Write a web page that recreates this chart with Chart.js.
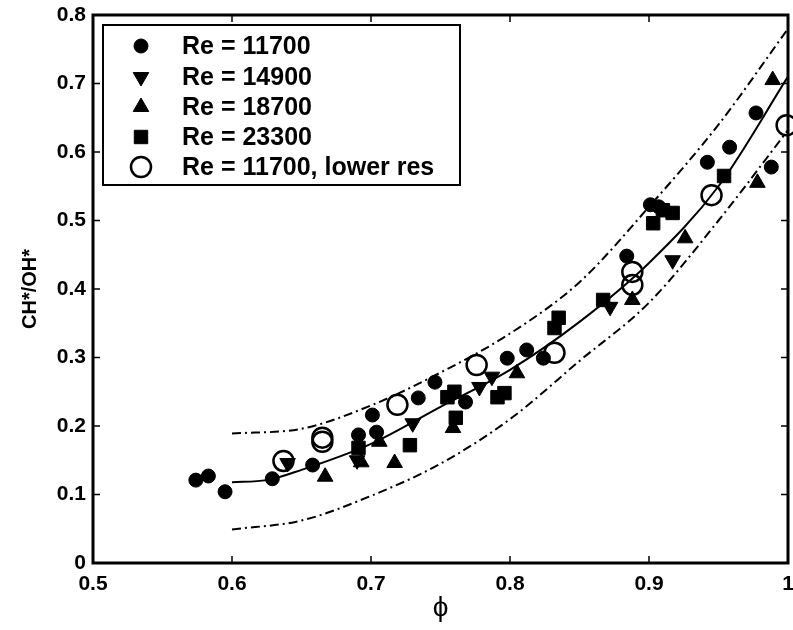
<!DOCTYPE html>
<html>
<head>
<meta charset="utf-8">
<script src="https://cdn.jsdelivr.net/npm/chart.js@4.4.1/dist/chart.umd.min.js"></script>
<style>
  html, body { margin: 0; padding: 0; background: #fff; }
  #wrap { width: 793px; height: 630px; }
</style>
</head>
<body>
<div id="wrap"><canvas id="ratio-chart" width="793" height="630"></canvas></div>
<script>
// axis ticks
var xTicks = [0.5, 0.6, 0.7, 0.8, 0.9, 1.0];
var yTicks = [0, 0.1, 0.2, 0.3, 0.4, 0.5, 0.6, 0.7, 0.8];

// measured points, one pair of arrays per Reynolds number
var re11700X = [0.574, 0.583, 0.595, 0.629, 0.658, 0.691, 0.701, 0.704, 0.734, 0.746, 0.768, 0.798, 0.812, 0.824, 0.884, 0.901, 0.907, 0.942, 0.958, 0.977, 0.988];
var re11700Y = [0.121, 0.127, 0.104, 0.123, 0.143, 0.187, 0.216, 0.191, 0.241, 0.264, 0.235, 0.299, 0.311, 0.299, 0.448, 0.523, 0.520, 0.585, 0.607, 0.657, 0.578];

var re14900X = [0.640, 0.690, 0.730, 0.778, 0.787, 0.872, 0.917];
var re14900Y = [0.146, 0.150, 0.204, 0.257, 0.272, 0.374, 0.442];

var re18700X = [0.667, 0.693, 0.706, 0.717, 0.759, 0.805, 0.888, 0.926, 0.978, 0.989];
var re18700Y = [0.126, 0.147, 0.177, 0.146, 0.197, 0.277, 0.384, 0.474, 0.555, 0.705];

var re23300X = [0.691, 0.728, 0.755, 0.760, 0.761, 0.791, 0.796, 0.832, 0.835, 0.867, 0.903, 0.910, 0.917, 0.954];
var re23300Y = [0.168, 0.172, 0.242, 0.250, 0.212, 0.242, 0.248, 0.343, 0.358, 0.384, 0.496, 0.515, 0.511, 0.565];

var lowResX = [0.637, 0.665, 0.665, 0.719, 0.776, 0.832, 0.888, 0.888, 0.945, 0.999];
var lowResY = [0.149, 0.177, 0.183, 0.231, 0.289, 0.307, 0.425, 0.406, 0.537, 0.639];

// fit curve and its band
var fitX = [0.6, 0.625, 0.65, 0.7, 0.75, 0.8, 0.85, 0.9, 0.95, 1.0];
var fitY = [0.118, 0.121, 0.136, 0.174, 0.228, 0.282, 0.352, 0.438, 0.55, 0.71];
var bandX = [0.6, 0.65, 0.7, 0.75, 0.8, 0.85, 0.9, 0.95, 1.0];
var upperY = [0.189, 0.196, 0.23, 0.278, 0.335, 0.41, 0.52, 0.64, 0.78];
var lowerY = [0.049, 0.062, 0.098, 0.145, 0.21, 0.295, 0.38, 0.5, 0.632];

var legendLabels = ["Re = 11700", "Re = 14900", "Re = 18700", "Re = 23300", "Re = 11700, lower res"];

var FONT = "'Liberation Sans', Arial, Helvetica, sans-serif";

function pairs(xs, ys) {
    return xs.map(function(x, i) { return { x: x, y: ys[i] }; });
}

function markerSet(label, xs, ys, style, radius, rotation, filled) {
    return {
        label: label,
        data: pairs(xs, ys),
        showLine: false,
        pointStyle: style,
        pointRadius: radius,
        pointRotation: rotation,
        pointBackgroundColor: filled ? "#000" : "rgba(0,0,0,0)",
        pointBorderColor: "#000",
        pointBorderWidth: filled ? 1 : 2.5,
        clip: 14,
        order: 1
    };
}

function curveSet(label, xs, ys, dash) {
    return {
        label: label,
        data: pairs(xs, ys),
        showLine: true,
        borderColor: "#000",
        borderWidth: 2,
        borderDash: dash,
        cubicInterpolationMode: "monotone",
        pointRadius: 0,
        fill: false,
        order: 2
    };
}

var markerSets = [
    markerSet(legendLabels[0], re11700X, re11700Y, "circle", 7, 0, true),
    markerSet(legendLabels[1], re14900X, re14900Y, "triangle", 9, 180, true),
    markerSet(legendLabels[2], re18700X, re18700Y, "triangle", 9, 0, true),
    markerSet(legendLabels[3], re23300X, re23300Y, "rect", 9.5, 0, true),
    markerSet(legendLabels[4], lowResX, lowResY, "circle", 10, 0, false)
];

// frame, inward ticks and the boxed legend, drawn MATLAB style
var matlabFrame = {
    id: "matlabFrame",
    afterDraw: function(chart) {
        var ctx = chart.ctx;
        var a = chart.chartArea;
        var xs = chart.scales.x, ys = chart.scales.y;
        ctx.save();
        ctx.strokeStyle = "#000";
        ctx.lineWidth = 1.5;
        ctx.beginPath();
        xTicks.forEach(function(t) {
            var px = xs.getPixelForValue(t);
            ctx.moveTo(px, a.bottom); ctx.lineTo(px, a.bottom - 7);
            ctx.moveTo(px, a.top); ctx.lineTo(px, a.top + 7);
        });
        yTicks.forEach(function(t) {
            var py = ys.getPixelForValue(t);
            ctx.moveTo(a.left, py); ctx.lineTo(a.left + 7, py);
            ctx.moveTo(a.right, py); ctx.lineTo(a.right - 7, py);
        });
        ctx.stroke();
        ctx.lineWidth = 3;
        ctx.strokeRect(a.left, a.top, a.right - a.left, a.bottom - a.top);

        // legend box
        ctx.fillStyle = "#fff";
        ctx.fillRect(103, 25, 357, 160);
        ctx.lineWidth = 2;
        ctx.strokeRect(103, 25, 357, 160);
        var rows = [46, 77, 107, 137, 167];
        ctx.font = "bold 25px " + FONT;
        ctx.textBaseline = "middle";
        markerSets.forEach(function(ds, i) {
            ctx.fillStyle = ds.pointBackgroundColor;
            ctx.strokeStyle = "#000";
            ctx.lineWidth = ds.pointBorderWidth;
            Chart.helpers.drawPoint(ctx, {
                pointStyle: ds.pointStyle,
                radius: ds.pointRadius,
                rotation: ds.pointRotation,
                borderWidth: ds.pointBorderWidth
            }, 141, rows[i]);
            ctx.fillStyle = "#000";
            ctx.fillText(legendLabels[i], 182, rows[i] + 1);
        });
        ctx.restore();
    }
};

var graphData = function() {
    var ctx = document.getElementById("ratio-chart").getContext("2d");

    new Chart(ctx, {
        type: "scatter",
        data: {
            datasets: markerSets.concat([
                curveSet("fit", fitX, fitY, []),
                curveSet("upper", bandX, upperY, [9, 4, 2, 4]),
                curveSet("lower", bandX, lowerY, [9, 4, 2, 4])
            ])
        },
        options: {
            responsive: false,
            animation: false,
            events: [],
            layout: {
                autoPadding: false,
                padding: { top: 15, right: 5, left: 0, bottom: 0 }
            },
            plugins: {
                legend: { display: false },
                tooltip: { enabled: false }
            },
            scales: {
                x: {
                    type: "linear",
                    min: 0.5,
                    max: 1.0,
                    afterBuildTicks: function(s) {
                        s.ticks = xTicks.map(function(v) { return { value: v }; });
                    },
                    afterFit: function(s) {
                        s.height = 67;
                        s.paddingLeft = 0;
                        s.paddingRight = 0;
                    },
                    grid: { display: false, drawTicks: false },
                    border: { display: false },
                    ticks: {
                        padding: 9,
                        color: "#000",
                        maxRotation: 0,
                        font: { size: 21, weight: "bold", family: FONT },
                        callback: function(v) { return String(+v.toFixed(1)); }
                    },
                    title: {
                        display: true,
                        text: "ϕ",
                        color: "#000",
                        padding: { top: 0, bottom: 5 },
                        font: { size: 28, family: FONT }
                    }
                },
                y: {
                    type: "linear",
                    min: 0,
                    max: 0.8,
                    afterBuildTicks: function(s) {
                        s.ticks = yTicks.map(function(v) { return { value: v }; });
                    },
                    afterFit: function(s) {
                        s.width = 93;
                        s.paddingTop = 0;
                        s.paddingBottom = 0;
                    },
                    grid: { display: false, drawTicks: false },
                    border: { display: false },
                    ticks: {
                        padding: 7,
                        color: "#000",
                        font: { size: 21, weight: "bold", family: FONT },
                        callback: function(v) { return String(+v.toFixed(1)); }
                    },
                    title: {
                        display: true,
                        text: "CH*/OH*",
                        color: "#000",
                        padding: { top: 18, bottom: 0 },
                        font: { size: 20, weight: "bold", family: FONT }
                    }
                }
            }
        },
        plugins: [matlabFrame]
    });
};

window.onload = graphData;
</script>
</body>
</html>
